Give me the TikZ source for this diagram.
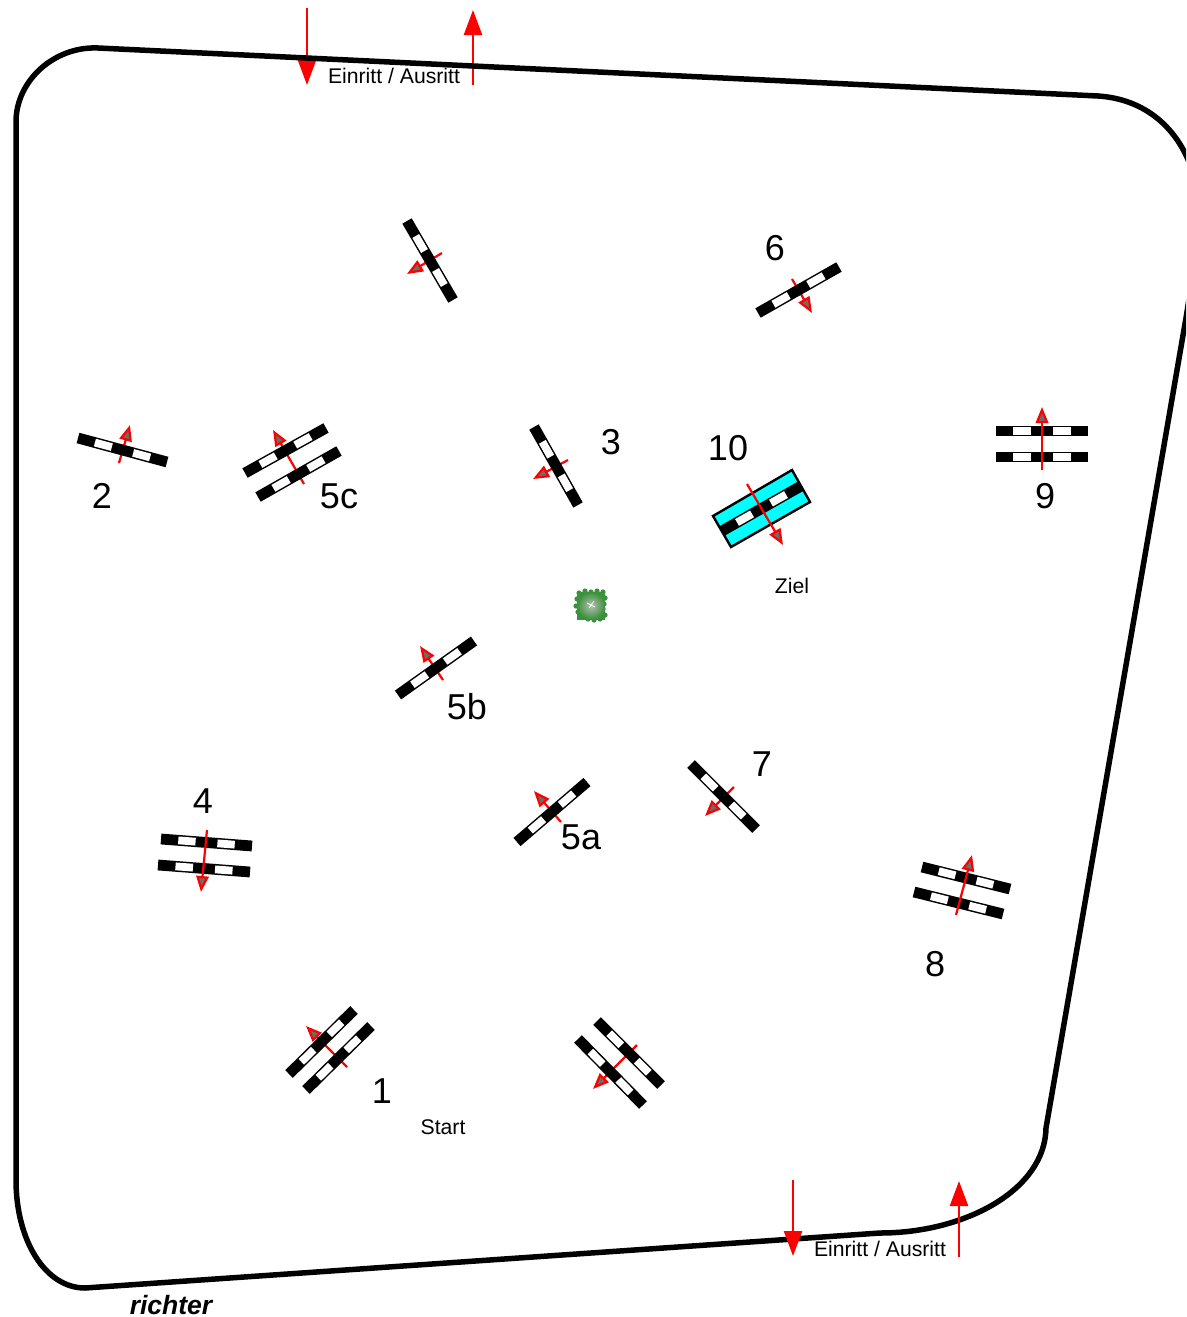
\documentclass[tikz,border=0pt]{standalone}
\usepackage{fontspec}
\setmainfont{Liberation Sans}
\usetikzlibrary{arrows.meta,calc}
\definecolor{watercyan}{RGB}{0,255,255}
\definecolor{shrubrim}{RGB}{60,145,60}
\definecolor{shrubmid}{RGB}{150,165,150}
\tikzset{
  ring/.style={draw=black,line width=5.5pt,line join=round},
  polebar/.style={draw=black,line width=10.8pt},
  polegap/.style={draw=white,line width=7.8pt},
  flowarrow/.style={draw=red,line width=2.2pt,-{Triangle[length=16pt,width=12.5pt,fill=gray!85!black,line width=2.2pt]}},
  gatearrow/.style={draw=red,line width=2.4pt,-{Triangle[length=25pt,width=18pt,fill=red]}},
  numlabel/.style={font=\fontsize{36}{40}\selectfont,text=black,inner sep=0pt,yshift=-.4pt},
  smalllabel/.style={font=\fontsize{21.2}{24}\selectfont,text=black,inner sep=0pt,yshift=-.4pt},
  judgelabel/.style={font=\fontsize{26.5}{30}\selectfont\bfseries\itshape,text=black,inner sep=0pt},
  waterbox/.style={draw=black,line width=2.4pt,fill=watercyan,line join=miter},
}
\newcommand{\obstaclebar}[3]{%
  \coordinate (#1-a) at (#2);
  \coordinate (#1-b) at (#3);
  \draw[polebar] (#1-a) -- (#1-b);
  \draw[polegap] ($(#1-a)!.19!(#1-b)$) -- ($(#1-a)!.38!(#1-b)$);
  \draw[polegap] ($(#1-a)!.62!(#1-b)$) -- ($(#1-a)!.81!(#1-b)$);
}
\newcommand{\flowline}[3]{%
  \coordinate (#1-s) at (#2);
  \coordinate (#1-e) at (#3);
  \draw[flowarrow] (#1-s) -- (#1-e);
}
\newcommand{\gateline}[3]{%
  \coordinate (#1-s) at (#2);
  \coordinate (#1-e) at (#3);
  \draw[gatearrow] (#1-s) -- (#1-e);
}
\begin{document}
\begin{tikzpicture}[x=1pt,y=-1pt]
\useasboundingbox (0,0) rectangle (1186,1317);
\clip (0,0) rectangle (1186,1317);
\fill[white] (0,0) rectangle (1186,1317);

% gate arrows passing under the arena line
\gateline{g1}{307,8}{307,85}
\gateline{g2}{473,85}{473,10}

% arena
\draw[ring] (98,48) -- (1098,96)
  .. controls (1145,99) and (1178,128) .. (1192,170)
  .. controls (1200,200) and (1198,245) .. (1186,318)
  -- (1046,1128)
  .. controls (1045,1190) and (965,1233) .. (880,1233)
  -- (85,1288)
  .. controls (45,1288) and (16,1240) .. (16,1180)
  -- (16,122)
  .. controls (16,80) and (55,46) .. (98,48) -- cycle;

% gate arrows passing over the arena line
\gateline{g3}{793,1180}{793,1256}
\gateline{g4}{959,1257}{959,1181}

% water jump
\draw[waterbox] (713,516) -- (792,470) -- (810,502) -- (731,547) -- cycle;

% obstacles
\flowline{topf}{442,253}{407,274}
\obstaclebar{top}{407,221}{453,300}

\flowline{sixf}{792,279}{812,313}
\obstaclebar{six}{758,313}{839,267}

\flowline{twof}{119,463}{130,425}
\obstaclebar{two}{78,438}{167,462}

\flowline{fivecf}{304,484}{273,430}
\obstaclebar{fivecA}{245,473}{326,428}
\obstaclebar{fivecB}{258,497}{339,451}

\flowline{threef}{568,460}{533,479}
\obstaclebar{three}{534,427}{578,505}

\obstaclebar{ten}{722,531}{801,486}
\flowline{tenf}{747,484}{783,545}

\obstaclebar{nineA}{996,431}{1088,431}
\obstaclebar{nineB}{996,457}{1088,457}
\flowline{ninef}{1042,470}{1042,407}

\flowline{fivebf}{443,680}{420,646}
\obstaclebar{fiveb}{398,695}{474,641}

\flowline{sevenf}{734,787}{705,816}
\obstaclebar{seven}{691,764}{756,829}

\flowline{fiveaf}{561,822}{534,791}
\obstaclebar{fivea}{517,842}{587,782}

\obstaclebar{fourA}{161,839}{252,846}
\obstaclebar{fourB}{158,865}{250,872}
\flowline{fourf}{207,830}{201,892}

\obstaclebar{eightA}{922,867}{1010,889}
\obstaclebar{eightB}{914,892}{1003,914}
\flowline{eightf}{956,915}{972,855}

\flowline{onef}{347,1067}{306,1026}
\obstaclebar{oneA}{289,1074}{354,1010}
\obstaclebar{oneB}{306,1090}{371,1026}

\flowline{lowf}{637,1045}{593,1089}
\obstaclebar{lowA}{597,1021}{661,1085}
\obstaclebar{lowB}{578,1039}{643,1105}

% shrub
\foreach \sx/\sy in {579/593,585/591,591/592,597/591,603/592,605/598,604/604,603/609,605/615,600/619,594/620,588/619,582/617,578/612,576/606,577/599}
  \fill[shrubrim] (\sx,\sy) circle (2.6pt);
\shade[inner color=shrubmid!70!white,outer color=shrubrim] (577,592) rectangle (605,619);
\draw[white,line width=.7pt] (587,603) -- (595,607) (594,601) -- (589,608);

% labels
\node[numlabel] (n6) at (775,248) {6};
\node[numlabel] (n2) at (102,496) {2};
\node[numlabel] (n5c) at (339,496) {5c};
\node[numlabel] (n3) at (611,442) {3};
\node[numlabel] (n10) at (728,448) {10};
\node[numlabel] (n9) at (1045,496) {9};
\node[numlabel] (n5b) at (467,706) {5b};
\node[numlabel] (n7) at (762,764) {7};
\node[numlabel] (n4) at (203,801) {4};
\node[numlabel] (n5a) at (581,837) {5a};
\node[numlabel] (n8) at (935,964) {8};
\node[numlabel] (n1) at (382,1091) {1};
\node[smalllabel] (ziel) at (792,586) {Ziel};
\node[smalllabel] (start) at (443,1127) {Start};
\node[smalllabel] (gatetop) at (394,76) {Einritt / Ausritt};
\node[smalllabel] (gatebot) at (880,1249) {Einritt / Ausritt};
\node[judgelabel] (judge) at (171,1305.5) {richter};
\end{tikzpicture}
\end{document}
